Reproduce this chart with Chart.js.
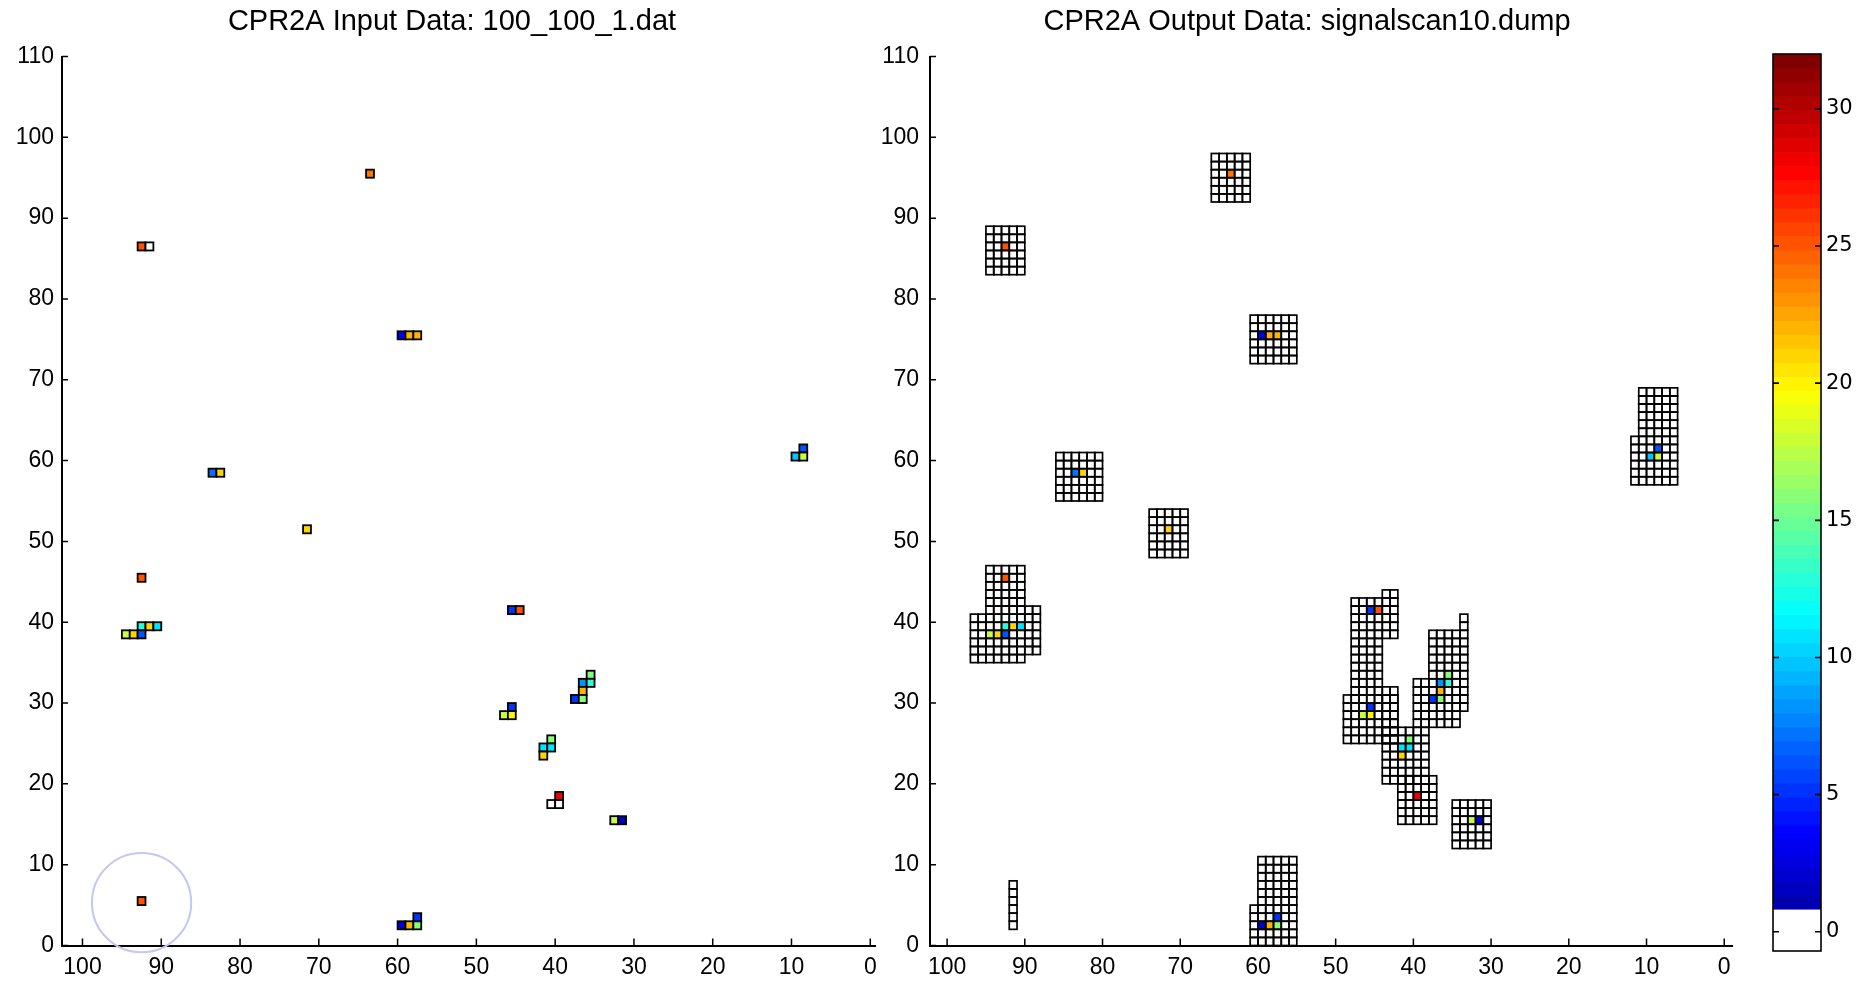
<!DOCTYPE html>
<html>
<head>
<meta charset="utf-8">
<script src="https://cdn.jsdelivr.net/npm/chart.js@4.4.1/dist/chart.umd.min.js"></script>
<style>
  html, body { margin: 0; background: #fff; }
  #page { position: relative; width: 1866px; height: 981px; overflow: hidden; background: #fff; }
  canvas { position: absolute; top: 0; }
</style>
</head>
<body>
<div id="page">
  <canvas id="inputChart" width="905" height="981" style="left:0px"></canvas>
  <canvas id="outputChart" width="880" height="981" style="left:870px"></canvas>
  <canvas id="colorbar" width="116" height="981" style="left:1750px"></canvas>
</div>
<script>
const xTicks = [0, 10, 20, 30, 40, 50, 60, 70, 80, 90, 100];
const yTicks = [0, 10, 20, 30, 40, 50, 60, 70, 80, 90, 100, 110];
const colorTicks = [0, 5, 10, 15, 20, 25, 30];

const inputTitle = 'CPR2A Input Data: 100_100_1.dat';
const outputTitle = 'CPR2A Output Data: signalscan10.dump';

// input cells: [column, row, signal]
const inputCells = [
    [63, 95, 24],
    [92, 86, 25], [91, 86, 0],
    [59, 75, 3], [58, 75, 22], [57, 75, 22],
    [83, 58, 7], [82, 58, 21],
    [71, 51, 21],
    [92, 45, 25],
    [92, 39, 13], [91, 39, 21], [90, 39, 11],
    [94, 38, 18], [93, 38, 21], [92, 38, 6],
    [45, 41, 5], [44, 41, 25],
    [35, 33, 16], [36, 32, 8], [35, 32, 13], [36, 31, 22], [37, 30, 5], [36, 30, 16],
    [45, 29, 5], [46, 28, 18], [45, 28, 20],
    [40, 25, 16], [41, 24, 11], [40, 24, 11], [41, 23, 21],
    [39, 18, 28], [40, 17, 0], [39, 17, 0],
    [32, 15, 18], [31, 15, 2],
    [8, 61, 6], [9, 60, 10], [8, 60, 18],
    [59, 2, 2], [58, 2, 22], [57, 2, 16], [57, 3, 5],
    [92, 5, 25]
];

// scanned regions of the output: [colFrom, colTo, rowFrom, rowTo]
const scanBlocks = [
    [90, 94, 83, 88],
    [61, 65, 92, 97],
    [55, 60, 72, 77],
    [80, 85, 55, 60],
    [69, 73, 48, 53],
    [90, 94, 35, 46], [88, 89, 36, 41], [95, 96, 35, 40],
    [6, 10, 57, 68], [11, 11, 57, 62],
    [55, 59, 0, 10], [60, 60, 0, 4],
    [91, 91, 2, 7],
    [44, 47, 31, 42], [42, 43, 38, 43], [42, 48, 25, 30], [42, 43, 25, 31],
    [38, 43, 20, 26],
    [37, 41, 15, 20],
    [33, 33, 39, 40], [33, 37, 29, 38], [38, 39, 27, 32], [34, 37, 27, 28],
    [30, 34, 12, 17]
];

// circled point on the input plot: [x, y, radius]
const marker = [92.5, 5.3, 6.3];

// colour scale
const colorMin = -0.7;
const colorMax = 32;
const colorLevels = 64;
const whiteLevels = 3;

const FONT = "'Liberation Sans', Arial, sans-serif";

function jet(t) {
    const c = v => Math.round(255 * Math.max(0, Math.min(1, 1.5 - Math.abs(4 * t - v))));
    return `rgb(${c(3)},${c(2)},${c(1)})`;
}

function levelColor(i) {
    if (i < whiteLevels) return '#ffffff';
    return jet(i / (colorLevels - 1));
}

function signalColor(v) {
    let i = Math.floor((v - colorMin) / (colorMax - colorMin) * colorLevels);
    i = Math.max(0, Math.min(colorLevels - 1, i));
    return levelColor(i);
}

function inScan(c, r) {
    return scanBlocks.some(([c0, c1, r0, r1]) => c >= c0 && c <= c1 && r >= r0 && r <= r1);
}

function cellBox(chart, col, row) {
    const { x, y } = chart.scales;
    const x0 = x.getPixelForValue(col), x1 = x.getPixelForValue(col + 1);
    const y0 = y.getPixelForValue(row), y1 = y.getPixelForValue(row + 1);
    return [Math.min(x0, x1), Math.min(y0, y1), Math.abs(x1 - x0), Math.abs(y1 - y0)];
}

const inputPlugin = {
    id: 'inputCells',
    afterDatasetsDraw(chart) {
        const ctx = chart.ctx;
        ctx.save();
        ctx.lineWidth = 1.8;
        ctx.strokeStyle = '#000';
        inputCells.forEach(([c, r, v]) => {
            const b = cellBox(chart, c, r);
            ctx.fillStyle = signalColor(v);
            ctx.fillRect(...b);
            ctx.strokeRect(...b);
        });
        const { x, y } = chart.scales;
        const cx = x.getPixelForValue(marker[0]);
        const cy = y.getPixelForValue(marker[1]);
        const rad = Math.abs(x.getPixelForValue(marker[0] + marker[2]) - cx);
        ctx.beginPath();
        ctx.arc(cx, cy, rad, 0, 2 * Math.PI);
        ctx.strokeStyle = '#c6c6f6';
        ctx.lineWidth = 2;
        ctx.stroke();
        ctx.restore();
    }
};

const outputPlugin = {
    id: 'scanCells',
    afterDatasetsDraw(chart) {
        const ctx = chart.ctx;
        const cells = [];
        scanBlocks.forEach(([c0, c1, r0, r1]) => {
            for (let c = c0; c <= c1; c++) {
                for (let r = r0; r <= r1; r++) cells.push(cellBox(chart, c, r));
            }
        });
        ctx.save();
        ctx.fillStyle = '#fff';
        cells.forEach(b => ctx.fillRect(...b));
        inputCells.filter(([c, r, v]) => v > 0 && inScan(c, r)).forEach(([c, r, v]) => {
            ctx.fillStyle = signalColor(v);
            ctx.fillRect(...cellBox(chart, c, r));
        });
        ctx.lineWidth = 1.7;
        ctx.strokeStyle = '#000';
        cells.forEach(b => ctx.strokeRect(...b));
        ctx.restore();
    }
};

const inwardTicks = {
    id: 'inwardTicks',
    afterDraw(chart) {
        const { ctx, chartArea: a, scales: { x, y } } = chart;
        ctx.save();
        ctx.strokeStyle = '#000';
        ctx.lineWidth = 1.5;
        ctx.beginPath();
        x.ticks.forEach(t => {
            const p = x.getPixelForValue(t.value);
            ctx.moveTo(p, a.bottom);
            ctx.lineTo(p, a.bottom - 7);
        });
        y.ticks.forEach(t => {
            const p = y.getPixelForValue(t.value);
            ctx.moveTo(a.left, p);
            ctx.lineTo(a.left + 6, p);
        });
        ctx.stroke();
        ctx.restore();
    }
};

const colorbarPlugin = {
    id: 'colorbar',
    afterDraw(chart) {
        const { ctx, chartArea: a, scales: { y } } = chart;
        const step = (colorMax - colorMin) / colorLevels;
        ctx.save();
        for (let i = 0; i < colorLevels; i++) {
            const top = y.getPixelForValue(colorMin + (i + 1) * step);
            const bot = y.getPixelForValue(colorMin + i * step);
            ctx.fillStyle = levelColor(i);
            ctx.fillRect(a.left, top, a.right - a.left, bot - top + 0.6);
        }
        ctx.strokeStyle = '#000';
        ctx.lineWidth = 1.6;
        ctx.strokeRect(a.left, a.top, a.right - a.left, a.bottom - a.top);
        ctx.beginPath();
        y.ticks.forEach(t => {
            const p = y.getPixelForValue(t.value);
            ctx.moveTo(a.left, p);
            ctx.lineTo(a.left + 6, p);
            ctx.moveTo(a.right, p);
            ctx.lineTo(a.right - 6, p);
        });
        ctx.stroke();
        ctx.restore();
    }
};

// yWidth: left axis box, spacer: empty right box so the title centres where the original does
function plotConfig(title, xMin, xMax, padRight, yWidth, spacer, yPad, plugins) {
    return {
        type: 'scatter',
        data: { datasets: [{ data: [] }] },
        options: {
            responsive: false,
            animation: false,
            devicePixelRatio: 1,
            layout: { padding: { left: 0, right: padRight, top: 0, bottom: 0 } },
            plugins: {
                legend: { display: false },
                tooltip: { enabled: false },
                title: {
                    display: true,
                    text: title,
                    color: '#000',
                    font: { family: FONT, size: 29, weight: 'normal' },
                    padding: { top: 5, bottom: 16.7 }
                }
            },
            scales: {
                x: {
                    type: 'linear',
                    reverse: true,
                    min: xMin,
                    max: xMax,
                    afterBuildTicks: s => { s.ticks = xTicks.map(v => ({ value: v })); },
                    afterFit: s => { s.height = 35.5; },
                    grid: { drawOnChartArea: false, drawTicks: false },
                    border: { display: true, color: '#000', width: 2 },
                    ticks: { color: '#000', font: { family: FONT, size: 23 }, padding: 8, maxRotation: 0, autoSkip: false }
                },
                y: {
                    type: 'linear',
                    min: 0,
                    max: 110,
                    afterBuildTicks: s => { s.ticks = yTicks.map(v => ({ value: v })); },
                    afterFit: s => { s.width = yWidth; },
                    grid: { drawOnChartArea: false, drawTicks: false },
                    border: { display: true, color: '#000', width: 2 },
                    ticks: { color: '#000', font: { family: FONT, size: 23 }, padding: yPad, autoSkip: false }
                },
                spacer: {
                    type: 'linear',
                    position: 'right',
                    afterFit: s => { s.width = spacer; },
                    grid: { display: false },
                    border: { display: false },
                    ticks: { display: false }
                }
            }
        },
        plugins: plugins
    };
}

new Chart(document.getElementById('inputChart'),
    plotConfig(inputTitle, -0.6, 102.6, 1, 62, 29, 8, [inputPlugin, inwardTicks]));

new Chart(document.getElementById('outputChart'),
    plotConfig(outputTitle, -1.0, 102.2, 6, 60, 12, 11, [outputPlugin, inwardTicks]));

new Chart(document.getElementById('colorbar'), {
    type: 'scatter',
    data: { datasets: [{ data: [] }] },
    options: {
        responsive: false,
        animation: false,
        devicePixelRatio: 1,
        layout: { padding: { left: 23, right: 0, top: 54, bottom: 30 } },
        plugins: { legend: { display: false }, tooltip: { enabled: false } },
        scales: {
            x: { display: false, min: 0, max: 1 },
            y: {
                position: 'right',
                min: colorMin,
                max: colorMax,
                afterBuildTicks: s => { s.ticks = colorTicks.map(v => ({ value: v })); },
                afterFit: s => { s.width = 45; },
                grid: { display: false },
                border: { display: false },
                ticks: { color: '#000', font: { family: "'DejaVu Sans', sans-serif", size: 21 }, padding: -3, autoSkip: false }
            }
        }
    },
    plugins: [colorbarPlugin]
});
</script>
</body>
</html>
